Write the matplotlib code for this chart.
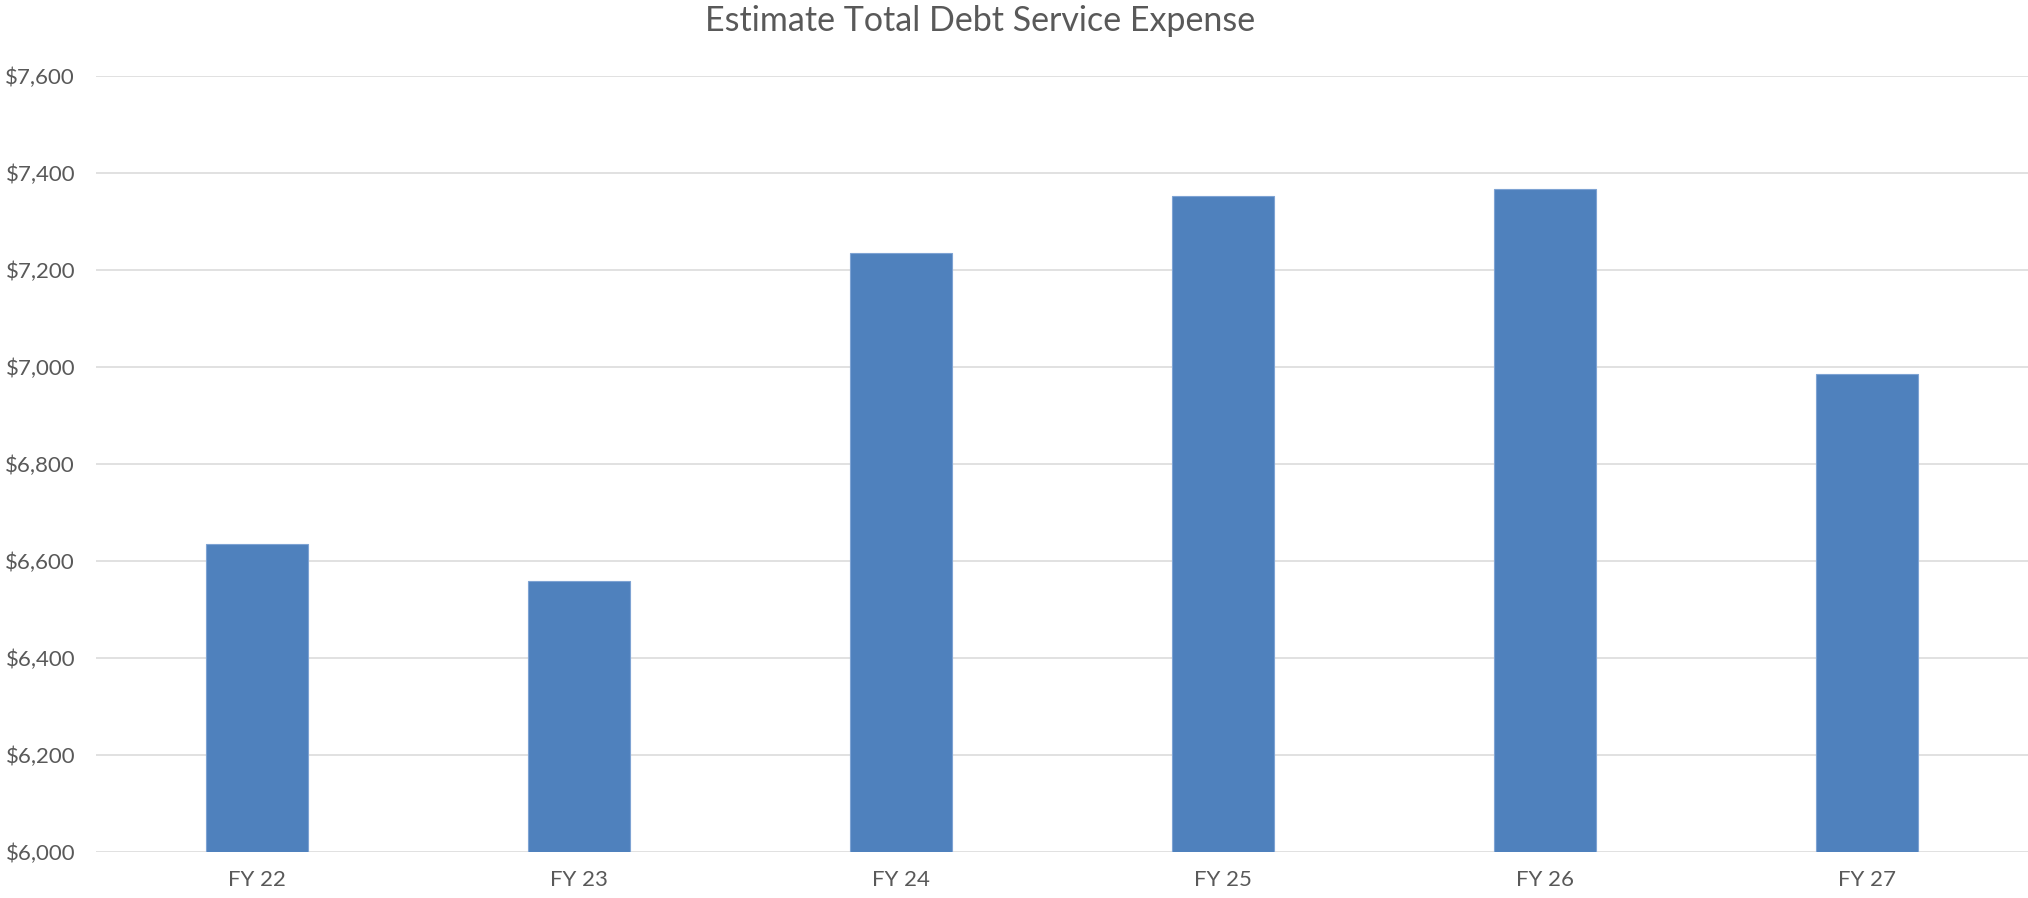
import matplotlib
matplotlib.use("Agg")
import matplotlib.pyplot as plt
from matplotlib.ticker import FuncFormatter, MultipleLocator

categories = ["FY 22", "FY 23", "FY 24", "FY 25", "FY 26", "FY 27"]
values = [6634, 6559, 7234, 7352, 7367, 6986]
title = "Estimate Total Debt Service Expense"

plt.rcParams['font.family'] = ['Lato', 'DejaVu Sans']

W, H, DPI = 2028, 898, 100
fig = plt.figure(figsize=(W / DPI, H / DPI), dpi=DPI)
ax = fig.add_axes([96 / W, 1 - 851.7 / H, 1 - 96 / W, (851.7 - 76) / H])

x = list(range(len(categories)))
ax.bar(x, values, width=0.314, color="#4F81BD", edgecolor="#7EA3D3",
       linewidth=0.8, zorder=3, bottom=0)
ax.set_ylim(6000, 7600)
ax.set_xlim(-0.5, len(categories) - 0.5)
ax.yaxis.set_major_locator(MultipleLocator(200))
ax.yaxis.set_major_formatter(FuncFormatter(lambda v, p: f"${v:,.0f}"))
ax.set_xticks(x)
ax.set_xticklabels(categories)
ax.grid(axis="y", color="#D9D9D9", linewidth=1.1, zorder=0)
ax.set_axisbelow(True)
for s in ax.spines.values():
    s.set_visible(False)
ax.tick_params(axis="both", length=0, labelsize=16, labelcolor="#595959")
ax.tick_params(axis="y", pad=15)
ax.tick_params(axis="x", pad=13)
for lab in ax.get_yticklabels():
    lab.set_clip_on(False)

fig.text(980 / W, 1 - 21 / H, title, ha="center", va="center",
         fontsize=24.5, color="#595959")

fig.savefig("out.png", dpi=DPI, facecolor="white")
